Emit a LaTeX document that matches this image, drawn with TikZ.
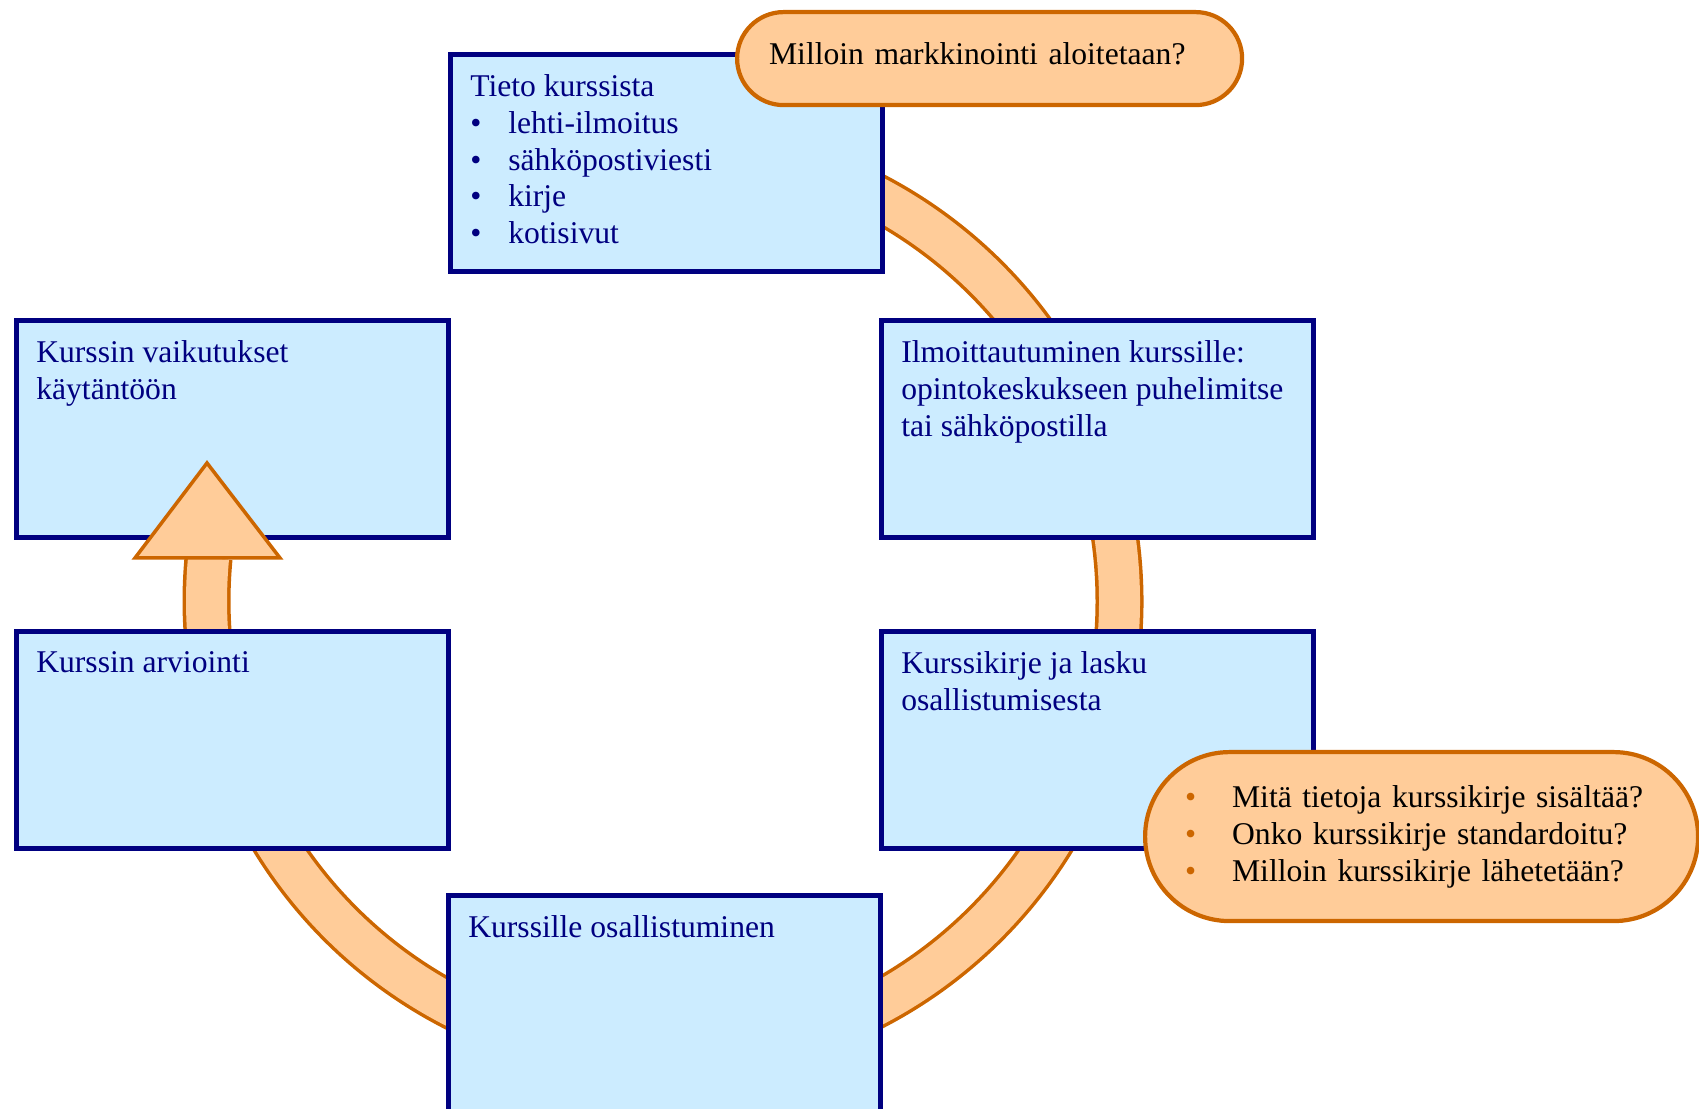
\documentclass[tikz,border=0pt]{standalone}
\usepackage{fontspec}
\setmainfont{Liberation Serif}
\usepackage{xcolor}
\definecolor{vaaleansin}{HTML}{CCECFF}
\definecolor{tummansin}{HTML}{000080}
\definecolor{persikka}{HTML}{FFCC99}
\definecolor{oranssi}{HTML}{CC6600}
\newcommand{\teksti}{\fontsize{9pt}{10.5pt}\selectfont}
\newcommand{\sisalto}[1]{\parbox[t][1.77cm][t]{3.92cm}{\raggedright #1}}
\newcommand{\kohta}[1]{\makebox[0.38cm][l]{\textbullet}#1}
\newcommand{\kysymys}[1]{\makebox[0.47cm][l]{\textcolor{oranssi}{\textbullet}}#1}
\tikzset{
  box/.style={draw=tummansin,fill=vaaleansin,line width=1.3pt,anchor=north west,
    inner xsep=0.2cm,inner ysep=0.2cm,text=tummansin,font=\teksti},
  pill/.style={draw=oranssi,fill=persikka,line width=1.2pt,anchor=north west,
    align=left,text=black,font=\teksti},
  rengas/.style={draw=oranssi,line width=1pt,double=persikka,double distance=0.41cm},
  kolmio/.style={draw=oranssi,fill=persikka,line width=1pt,line join=miter}
}

\begin{document}
\begin{tikzpicture}
\useasboundingbox (0,0) rectangle (16.99,11.09);
% kehä laatikoiden alla
\coordinate (keski) at (6.63,5.08);
\draw[rengas] ([shift={(95:4.565)}]keski) arc[start angle=95,end angle=-185.4,radius=4.565];
% vaiheet
\node[box] (tieto) at (4.48,10.57) {\sisalto{Tieto kurssista\\ \kohta{lehti-ilmoitus}\\ \kohta{sähköpostiviesti}\\ \kohta{kirje}\\ \kohta{kotisivut}}};
\node[box] (ilmo) at (8.79,7.91) {\sisalto{Ilmoittautuminen kurssille:\\ opintokeskukseen puhelimitse\\ tai sähköpostilla}};
\node[box] (kirje) at (8.79,4.80) {\sisalto{Kurssikirje ja lasku\\ osallistumisesta}};
\node[box] (osallistu) at (4.46,2.16) {\sisalto{Kurssille osallistuminen}};
\node[box] (arvio) at (0.14,4.80) {\sisalto{Kurssin arviointi}};
\node[box] (vaikutus) at (0.14,7.91) {\sisalto{Kurssin vaikutukset\\ käytäntöön}};
% kysymykset
\node[pill,minimum height=0.93cm,rounded corners=0.465cm,inner xsep=0.32cm,text width=4.41cm,text depth=0.1cm] (markk) at (7.35,10.99) {Milloin markkinointi aloitetaan?};
\node[pill,minimum height=1.69cm,rounded corners=0.845cm,inner xsep=0.40cm,text width=4.73cm] (kysy) at (11.43,3.59) {\kysymys{Mitä tietoja kurssikirje sisältää?}\\ \kysymys{Onko kurssikirje standardoitu?}\\ \kysymys{Milloin kurssikirje lähetetään?}};
% nuolen kärki
\coordinate (karki) at (2.07,6.46);
\draw[kolmio] (karki) -- (2.80,5.51) -- (1.35,5.51) -- cycle;
\end{tikzpicture}
\end{document}
